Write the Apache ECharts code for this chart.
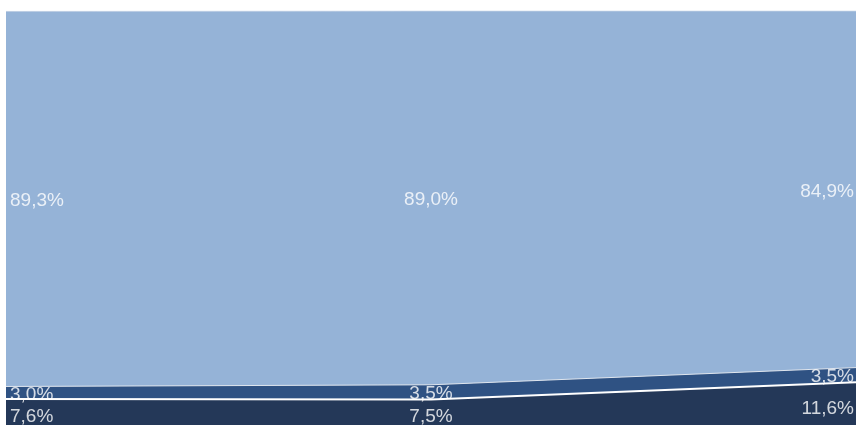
<!DOCTYPE html>
<html>
<head>
<meta charset="utf-8">
<script src="https://cdn.jsdelivr.net/npm/echarts@6/dist/echarts.min.js"></script>
<style>
  html, body { margin: 0; padding: 0; background: #fff; }
  #chart { width: 856px; height: 425px; }
</style>
</head>
<body>
<div id="chart"></div>
<script>
// three columns, shares in percent (bottom to top)
const categories = ["A", "B", "C"];
const bottomValues = [7.6, 7.5, 11.6];
const middleValues = [3.0, 3.5, 3.5];
const topValues = [89.3, 89.0, 84.9];

const layers = [bottomValues, middleValues, topValues];
const fmt = (v) => v.toFixed(1).replace(".", ",") + "%";

// label points sit in the middle of each band
let labelData = [];
let base = [0, 0, 0];
layers.forEach((vals) => {
  vals.forEach((v, i) => {
    let item = {
      value: [i, base[i] + v / 2, v],
      label: {},
    };
    if (i === 0) {
      item.label = { align: "left", offset: [4, 2] };
    } else if (i === vals.length - 1) {
      item.label = { align: "right", offset: [-2, 2] };
    }
    labelData.push(item);
    base[i] += v;
  });
});

let chart = echarts.init(document.getElementById("chart"));
let option = {
  animation: false,
  grid: { left: 6, top: 11, right: 0, height: 420, outerBoundsMode: "none", containLabel: false },
  xAxis: {
    type: "category",
    data: categories,
    boundaryGap: false,
    show: false,
  },
  yAxis: {
    type: "value",
    min: 0,
    max: 100,
    show: false,
  },
  series: [
    {
      type: "line",
      stack: "share",
      symbol: "none",
      data: bottomValues,
      lineStyle: { color: "#ffffff", width: 2 },
      areaStyle: { color: "#243858", opacity: 1 },
      z: 3,
    },
    {
      type: "line",
      stack: "share",
      symbol: "none",
      data: middleValues,
      lineStyle: { color: "#dfe6ef", width: 1 },
      areaStyle: { color: "#2f5283", opacity: 1 },
      z: 2,
    },
    {
      type: "line",
      stack: "share",
      symbol: "none",
      data: topValues,
      lineStyle: { color: "#bccde3", width: 1 },
      areaStyle: { color: "#95b3d7", opacity: 1 },
      z: 1,
    },
    {
      type: "scatter",
      symbolSize: 0,
      clip: false,
      data: labelData,
      z: 10,
      label: {
        show: true,
        position: "inside",
        offset: [0, 2],
        color: "#ffffff",
        fontFamily: "Liberation Sans",
        fontSize: 19,
        formatter: (p) => fmt(p.value[2]),
      },
    },
  ],
};
chart.setOption(option);
</script>
</body>
</html>
